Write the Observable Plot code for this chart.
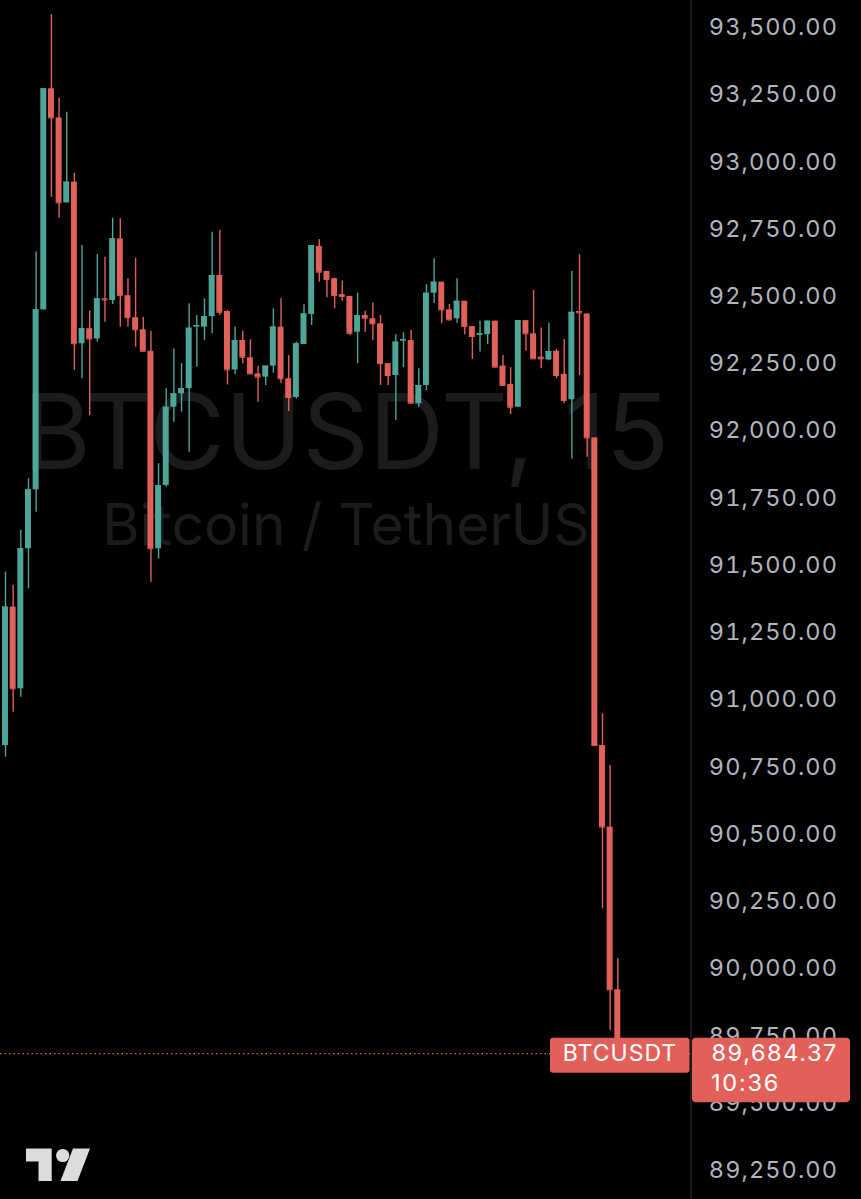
<!DOCTYPE html>
<html><head><meta charset="utf-8">
<script src="https://cdn.jsdelivr.net/npm/d3@7"></script>
<script src="https://cdn.jsdelivr.net/npm/@observablehq/plot@0.6"></script>
<style>
html,body{margin:0;padding:0;background:#000;}
#chart{width:861px;height:1199px;overflow:hidden;}
</style>
</head><body><div id="chart"></div>
<script>
// 15-minute BTCUSDT candles
const opens  = [90830,91345,91041,91562,91781,92450,93272,93164,92848,92925,92324,92380,92342,92491,92485,92714,92503,92421,92376,92296,91562,91797,92088,92138,92157,92386,92386,92425,92578,92444,92227,92336,92272,92212,92200,92241,92386,92194,92124,92321,92433,92686,92593,92566,92507,92500,92367,92429,92417,92398,92250,92206,92334,92336,92101,92169,92512,92553,92450,92417,92482,92388,92355,92358,92408,92241,92173,92088,92410,92361,92274,92264,92296,92210,92116,92444,92435,91974,90830,90527,89922];
const highs  = [91475,91425,91630,91822,92665,93272,93548,93237,93185,92958,92689,92445,92656,92646,92791,92789,92566,92642,92423,92371,91878,92157,92305,92250,92473,92429,92491,92739,92745,92448,92386,92371,92339,92240,92241,92454,92491,92280,92330,92469,92689,92711,92593,92568,92557,92501,92512,92445,92476,92429,92250,92358,92365,92373,92231,92544,92640,92553,92470,92566,92482,92388,92408,92408,92408,92280,92235,92410,92410,92522,92383,92400,92303,92340,92593,92655,92435,91974,90948,90756,90037];
const lows   = [90787,90954,91010,91413,91698,92450,92869,92791,92848,92225,92194,92057,92330,92404,92470,92386,92386,92311,92293,91437,91524,91791,92032,92070,91921,92237,92336,92361,92429,92171,92210,92250,92210,92107,92169,92215,92175,92072,92119,92321,92392,92553,92495,92454,92482,92355,92250,92367,92336,92169,92169,92039,92235,92101,92088,92150,92474,92398,92408,92400,92358,92266,92293,92321,92235,92165,92061,92088,92296,92268,92231,92262,92194,92101,91896,92206,91902,90830,90223,89771,89684.37];
const closes = [91345,91041,91562,91781,92450,93272,93164,92848,92925,92324,92380,92342,92491,92487,92714,92503,92421,92376,92296,91562,91797,92088,92138,92157,92382,92392,92425,92578,92441,92227,92336,92274,92212,92200,92241,92386,92194,92124,92324,92435,92689,92590,92563,92503,92500,92363,92429,92419,92398,92250,92206,92330,92339,92103,92169,92512,92553,92450,92413,92482,92388,92351,92361,92408,92237,92169,92088,92410,92361,92268,92268,92295,92206,92113,92441,92439,91974,90830,90527,89922,89684.37];
const yTicks = [89250,89500,89750,90000,90250,90500,90750,91000,91250,91500,91750,92000,92250,92500,92750,93000,93250,93500];
const symbol = "BTCUSDT";
const interval = "15";
const pairName = "Bitcoin / TetherUS";
const lastPrice = 89684.37;
const countdown = "10:36";

const UP = "#4fa597", DOWN = "#e2605a";
const data = opens.map((o, i) => ({i, open: o, high: highs[i], low: lows[i], close: closes[i], up: closes[i] >= o}));
const half = 0.39;
const FONT = "Inter, 'Noto Sans', sans-serif";

const chart = Plot.plot({
  width: 861, height: 1199,
  marginLeft: 0, marginRight: 170, marginTop: 0, marginBottom: 0,
  style: {background: "#000", fontFamily: FONT, overflow: "visible"},
  x: {domain: [0, opens.length - 1], range: [5, 617.3], axis: null},
  y: {domain: [89250, 93500], range: [1170, 27], axis: null},
  marks: [
    Plot.text([symbol + ", " + interval], {frameAnchor: "middle", dy: -164, fontSize: 104, fill: "#1b1c1e", fontFamily: FONT}),
    Plot.text([pairName], {frameAnchor: "middle", dy: -73, fontSize: 57, fill: "#1b1c1e", fontFamily: FONT}),
    Plot.axisY(yTicks, {anchor: "right", tickSize: 0, tickPadding: 146.5, textAnchor: "end", fontSize: 23.5, color: "#b2b5be", tickFormat: ",.2f"}),
    Plot.ruleY([lastPrice], {stroke: DOWN, strokeDasharray: "1.5,3", strokeWidth: 1.2}),
    Plot.ruleX(data, {x: "i", y1: "low", y2: "high", stroke: d => d.up ? UP : DOWN, strokeWidth: 1.4}),
    Plot.rect(data, {x1: d => d.i - half, x2: d => d.i + half, y1: "open", y2: "close", fill: d => d.up ? UP : DOWN}),
    Plot.ruleY(data, {y: "close", x1: d => d.i - half, x2: d => d.i + half, stroke: d => d.up ? UP : DOWN, strokeWidth: 1})
  ]
});

document.getElementById("chart").appendChild(chart);

const svg = d3.select(chart);
// widen the price-axis labels like the reference
svg.selectAll("text").filter(function() { return /^\d{2},\d{3}\.\d{2}$/.test(this.textContent); })
  .style("letter-spacing", "1.1px");

// overlays: axis separator, last-price labels, logo
const py = chart.scale("y").apply(lastPrice);
const sepX = 691;
svg.append("line").attr("x1", sepX).attr("x2", sepX).attr("y1", 0).attr("y2", 1199)
  .attr("stroke", "#2e2e30").attr("stroke-width", 1.2);

const g = svg.append("g").attr("font-family", FONT);
g.append("rect").attr("x", 550).attr("y", py - 15.5).attr("width", 139.5).attr("height", 35).attr("rx", 3).attr("fill", DOWN);
g.append("text").attr("x", 620).attr("y", py + 2).attr("text-anchor", "middle").attr("dominant-baseline", "middle")
  .attr("fill", "#fff").attr("font-size", 23).style("letter-spacing", "1px").text(symbol);
g.append("rect").attr("x", sepX + 1).attr("y", py - 15.5).attr("width", 158).attr("height", 64.5).attr("rx", 4).attr("fill", DOWN);
g.append("text").attr("x", 838).attr("y", py + 1.5).attr("text-anchor", "end").attr("dominant-baseline", "middle")
  .attr("fill", "#fff").attr("font-size", 23.5).style("letter-spacing", "1.6px").text(d3.format(",.2f")(lastPrice));
g.append("text").attr("x", 711).attr("y", py + 31.5).attr("text-anchor", "start").attr("dominant-baseline", "middle")
  .attr("fill", "#fff").attr("font-size", 23.5).style("letter-spacing", "1.8px").text(countdown);

// TradingView logo
const logo = svg.append("g").attr("fill", "#dcdcdc");
logo.append("path").attr("d", "M26,1148.5 H51.7 V1181 H38.5 V1161.5 H26 Z");
logo.append("circle").attr("cx", 62.7).attr("cy", 1155.5).attr("r", 6.6);
logo.append("path").attr("d", "M73,1148.5 H90 L77.5,1181 H60.5 Z");
</script>
</body></html>
